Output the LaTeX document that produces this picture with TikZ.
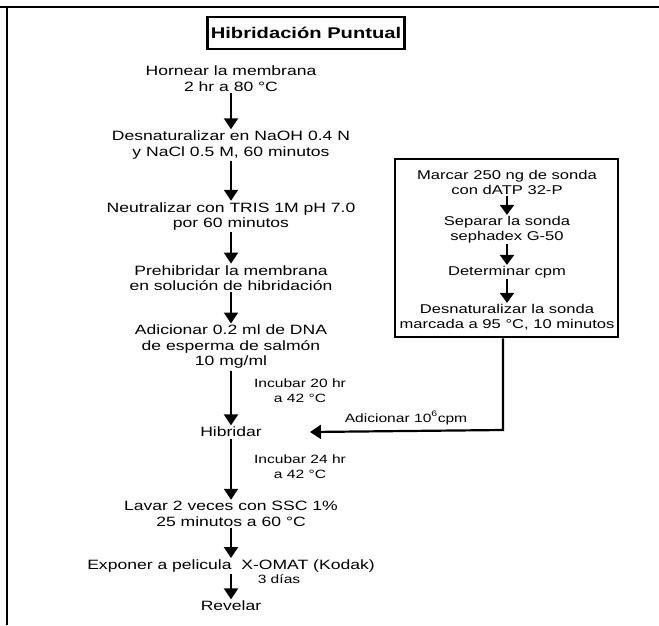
\documentclass[tikz,border=0pt]{standalone}
\usepackage{fontspec}
\setmainfont{Liberation Sans}[FakeStretch=1.3]
\usetikzlibrary{arrows.meta}
\begin{document}
\begin{tikzpicture}[x=1pt,y=-1pt,
  frame/.style={line width=2.5pt},
  txt/.style={align=center,font=\fontsize{13.5}{15.5}\selectfont,inner sep=1.5pt},
  sidetxt/.style={align=center,font=\fontsize{12.75}{15}\selectfont,inner sep=1pt},
  note/.style={align=center,font=\fontsize{12}{14.5}\selectfont,inner sep=1pt},
  flow/.style={line width=2.2pt,-{Triangle[width=14pt,length=11pt]}},
  shortflow/.style={line width=2.2pt,-{Triangle[width=14pt,length=10pt]}},
  titlebox/.style={draw,line width=2.2pt,minimum width=192pt,minimum height=32pt,
    font=\bfseries\fontsize{15.5}{18}\selectfont},
  panel/.style={draw,line width=2.5pt}
]
\useasboundingbox (0,0) rectangle (659,625);

% outer frame: top rule and left rule only
\coordinate (tl) at (7,7);
\coordinate (tr) at (659,7);
\coordinate (bl) at (7,625);
\draw[frame] (0,7) -- (tr);
\draw[frame] (tl) -- (bl);

% title
\node[titlebox] (title) at (306,33) {Hibridación Puntual};

% main column
\node[txt] (s1) at (231,78.5) {Hornear la membrana\\2 hr a 80 °C};
\node[txt] (s2) at (231,145) {Desnaturalizar en NaOH 0.4 N\\y NaCl 0.5 M, 60 minutos};
\node[txt] (s3) at (231,216.5) {Neutralizar con TRIS 1M pH 7.0\\por 60 minutos};
\node[txt] (s4) at (231,278) {Prehibridar la membrana\\en solución de hibridación};
\node[txt] (s5) at (231,347) {Adicionar 0.2 ml de DNA\\de esperma de salmón\\10 mg/ml};
\node[txt] (s6) at (231,432) {Hibridar};
\node[txt] (s7) at (231,514) {Lavar 2 veces con SSC 1\%\\25 minutos a 60 °C};
\node[txt] (s8) at (231,566) {Exponer a pelicula\ \ X-OMAT (Kodak)};
\node[txt] (s9) at (231,606) {Revelar};

\draw[flow] (s1) -- (s2);
\draw[flow] (s2) -- (s3);
\draw[flow] (s3) -- (s4);
\draw[flow] (s4) -- (s5);
\draw[flow] (s5) -- (s6);
\draw[flow] (s6) -- (s7);
\draw[flow] (s7) -- (s8);
\draw[flow] (s8) -- (s9);

% step labels beside the arrows
\node[note] (n1) at (300,390.5) {Incubar 20 hr\\a 42 °C};
\node[note] (n2) at (300,466.5) {Incubar 24 hr\\a 42 °C};
\node[note] (n3) at (279,579) {3 días};

% probe preparation panel
\node[panel,minimum width=223pt,minimum height=178pt] (probe) at (506.5,248) {};
\node[sidetxt] (p1) at (507,182.5) {Marcar 250 ng de sonda\\con dATP 32-P};
\node[sidetxt] (p2) at (507,229.5) {Separar la sonda\\sephadex G-50};
\node[sidetxt] (p3) at (507,272) {Determinar cpm};
\node[sidetxt] (p4) at (507,317) {Desnaturalizar la sonda\\marcada a 95 °C, 10 minutos};

\draw[shortflow] (p1) -- (p2);
\draw[shortflow] (p2) -- (p3);
\draw[shortflow] (p3) -- (p4);

% labelled probe added to the hybridisation
\coordinate (corner) at (503,430);
\node[note] (add) at (406,418) {Adicionar 10\raisebox{2pt}{\textsuperscript{6}}cpm};
\draw[flow] (probe.south -| corner) -- (corner) -- (s6.east -| 310,0) ;
\end{tikzpicture}
\end{document}
